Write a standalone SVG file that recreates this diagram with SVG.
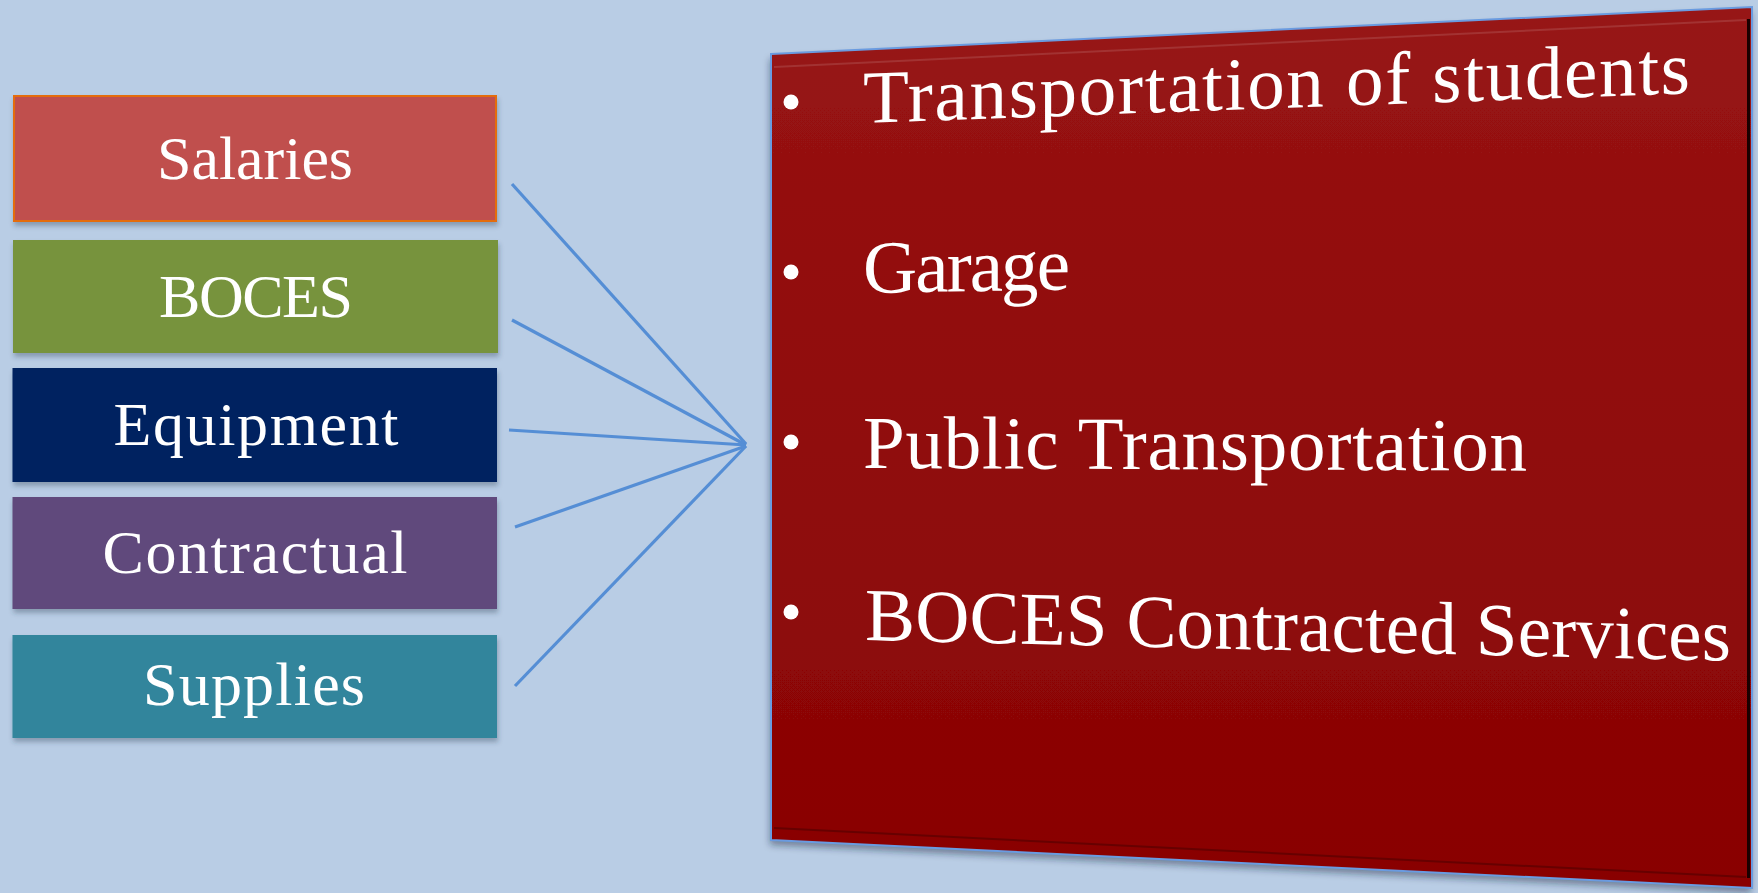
<svg xmlns="http://www.w3.org/2000/svg" width="1758" height="893" viewBox="0 0 1758 893">
  <defs>
    <style>
      .lbl { font-family: "Liberation Serif", "Times New Roman", serif; font-size: 62px; fill: #ffffff; text-anchor: middle; }
      .item { font-family: "Liberation Serif", "Times New Roman", serif; font-size: 75px; fill: #ffffff; }
      .box { filter: url(#boxShadow); }
      .link { stroke: #558ed5; stroke-width: 3.2; fill: none; stroke-linecap: butt; }
      .dot { fill: #ffffff; }
    </style>
    <filter id="boxShadow" x="-5%" y="-10%" width="115%" height="135%">
      <feDropShadow dx="1" dy="4" stdDeviation="2.5" flood-color="#2a3a50" flood-opacity="0.35"/>
    </filter>
    <filter id="panelShadow" x="-5%" y="-5%" width="112%" height="115%">
      <feDropShadow dx="-1" dy="5" stdDeviation="3.5" flood-color="#1c2838" flood-opacity="0.45"/>
    </filter>
    <linearGradient id="panelFill" x1="0" y1="0" x2="0" y2="1">
      <stop offset="0" stop-color="#971414"/>
      <stop offset="0.5" stop-color="#900b0b"/>
      <stop offset="1" stop-color="#890303"/>
    </linearGradient>
  </defs>

  <!-- background -->
  <rect x="0" y="0" width="1758" height="893" fill="#b9cde5"/>

  <!-- cost category boxes -->
  <g id="salaries">
    <rect class="box" x="14" y="96" width="482" height="125" fill="#c0504d" stroke="#e46c0a" stroke-width="2"/>
    <text class="lbl" x="255" y="179" textLength="196">Salaries</text>
  </g>
  <g id="boces">
    <rect class="box" x="13" y="240" width="485" height="113" fill="#77933c"/>
    <text class="lbl" x="256" y="317" textLength="194">BOCES</text>
  </g>
  <g id="equipment">
    <rect class="box" x="12.5" y="368" width="484.5" height="114" fill="#002060"/>
    <text class="lbl" x="256" y="445" textLength="285">Equipment</text>
  </g>
  <g id="contractual">
    <rect class="box" x="12.5" y="497" width="484.5" height="112" fill="#604a7b"/>
    <text class="lbl" x="255" y="573" textLength="305">Contractual</text>
  </g>
  <g id="supplies">
    <rect class="box" x="12.5" y="635" width="484.5" height="103" fill="#31859c"/>
    <text class="lbl" x="254" y="705" textLength="222">Supplies</text>
  </g>

  <!-- connectors converging on the transportation panel -->
  <g id="connectors">
    <line class="link" x1="512" y1="184" x2="746" y2="444"/>
    <line class="link" x1="512" y1="320" x2="746" y2="445"/>
    <line class="link" x1="509" y1="430" x2="746" y2="445"/>
    <line class="link" x1="515" y1="527" x2="746" y2="446"/>
    <line class="link" x1="515" y1="686" x2="746" y2="446"/>
  </g>

  <!-- transportation panel, drawn in perspective -->
  <g id="transportation">
    <polygon points="771,54 1752,7 1752,888 771,840" fill="url(#panelFill)" filter="url(#panelShadow)"/>
    <polygon points="771,54 1752,7 1752,888 771,840" fill="none" stroke="#6a9be0" stroke-width="2"/>
    <!-- bevel edges -->
    <line x1="774" y1="67" x2="1746" y2="20" stroke="#ffffff" stroke-opacity="0.12" stroke-width="2"/>
    <line x1="774" y1="828" x2="1746" y2="877" stroke="#4a0000" stroke-opacity="0.55" stroke-width="2"/>
    <line x1="1748.5" y1="19" x2="1748.5" y2="878" stroke="#1a0000" stroke-width="3"/>

    <circle class="dot" cx="791" cy="102" r="7.5"/>
    <circle class="dot" cx="791" cy="272" r="7.5"/>
    <circle class="dot" cx="791" cy="442" r="7.5"/>
    <circle class="dot" cx="791" cy="612" r="7.5"/>

    <text class="item" transform="matrix(1 -0.036 0 1 863 123)" x="0" y="0" textLength="827">Transportation of students</text>
    <text class="item" transform="matrix(1 -0.017 0 1 863 293)" x="0" y="0" textLength="207">Garage</text>
    <text class="item" transform="matrix(1 0.004 0 1 863 468)" x="0" y="0" textLength="664">Public Transportation</text>
    <text class="item" transform="matrix(1 0.024 0 1 865 640)" x="0" y="0" textLength="866">BOCES Contracted Services</text>
  </g>
</svg>
